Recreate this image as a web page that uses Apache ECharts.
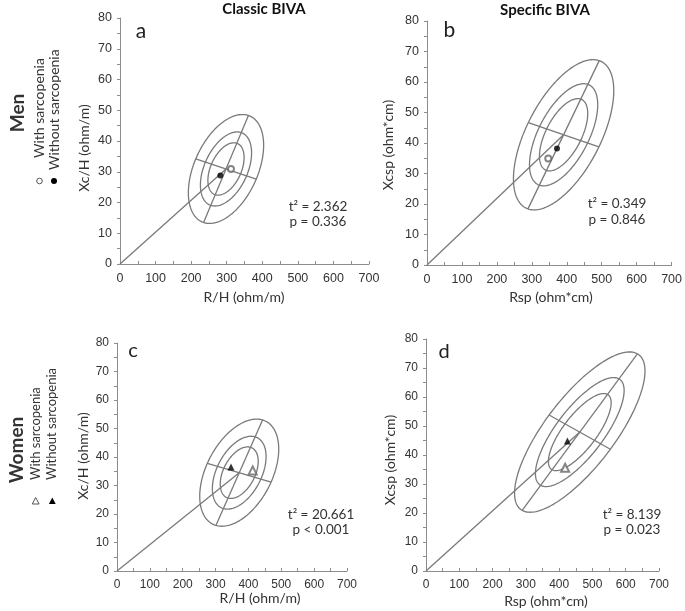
<!DOCTYPE html>
<html><head><meta charset="utf-8">
<script src="https://cdn.jsdelivr.net/npm/echarts@6/dist/echarts.min.js"></script>
<style>html,body{margin:0;padding:0;background:#fff}#c{width:685px;height:611px}</style>
</head><body><div id="c"></div>
<script>
// Axis ticks (shared by all panels)
const xTicks = [0, 100, 200, 300, 400, 500, 600, 700];
const yTicks = [0, 10, 20, 30, 40, 50, 60, 70, 80];

// Tolerance ellipse size relative to the outer (95%) ellipse: 50%, 75%, 95%
const ellipseScales = [0.481, 0.680, 1];

// Panel a: Men, classic BIVA (R/H, Xc/H)
const centerA = [298, 30.9];
const majorEndA = [361, 48.3];
const minorEndA = [383, 27.6];
const withSarcA = [312, 30.9];
const withoutSarcA = [282, 28.8];
const statsA = ['t² = 2.362', 'p = 0.336'];

// Panel b: Men, specific BIVA (Rsp, Xcsp)
const centerB = [391, 42.7];
const majorEndB = [493, 67.0];
const minorEndB = [492, 38.7];
const withSarcB = [347, 34.9];
const withoutSarcB = [372, 38.2];
const statsB = ['t² = 0.349', 'p = 0.846'];

// Panel c: Women, classic BIVA
const centerC = [372, 34.5];
const majorEndC = [443, 53.0];
const minorEndC = [469, 31.2];
const withSarcC = [413, 35.3];
const withoutSarcC = [347, 36.5];
const statsC = ['t² = 20.661', 'p < 0.001'];

// Panel d: Women, specific BIVA
const centerD = [462, 47.9];
const majorEndD = [635, 74.9];
const minorEndD = [554, 42.0];
const withSarcD = [418, 35.6];
const withoutSarcD = [425, 44.8];
const statsD = ['t² = 8.139', 'p = 0.023'];

const FONT = 'Lato, "Open Sans", sans-serif';
const TICKFONT = '"Liberation Sans", Arial, sans-serif';
const GRAY = '#7a7a7a';

function renderBiva(params, api) {
  const c = api.coord([api.value(0), api.value(1)]);
  const m = api.coord([api.value(2), api.value(3)]);
  const n = api.coord([api.value(4), api.value(5)]);
  const o = api.coord([0, 0]);
  const u = [m[0] - c[0], m[1] - c[1]];
  const v = [n[0] - c[0], n[1] - c[1]];
  const style = { stroke: GRAY, lineWidth: 1.3, fill: null };
  const children = [];
  ellipseScales.forEach(function (s) {
    const pts = [];
    for (let i = 0; i < 180; i++) {
      const t = i / 180 * 2 * Math.PI;
      pts.push([c[0] + s * (u[0] * Math.cos(t) + v[0] * Math.sin(t)),
                c[1] + s * (u[1] * Math.cos(t) + v[1] * Math.sin(t))]);
    }
    children.push({ type: 'polygon', shape: { points: pts }, style: style });
  });
  children.push({ type: 'line', shape: { x1: c[0] - u[0], y1: c[1] - u[1], x2: m[0], y2: m[1] }, style: style });
  children.push({ type: 'line', shape: { x1: c[0] - v[0], y1: c[1] - v[1], x2: n[0], y2: n[1] }, style: style });
  children.push({ type: 'line', shape: { x1: o[0], y1: o[1], x2: c[0], y2: c[1] }, style: style });
  return { type: 'group', children: children };
}

const grids = [
  { left: 120, top: 18, width: 249, height: 246 },
  { left: 427, top: 21, width: 247, height: 244 },
  { left: 117, top: 343, width: 230, height: 228 },
  { left: 426, top: 339, width: 233, height: 232 }
];
const tickSizes = [12.5, 12.5, 12, 12];

function xAx(i) {
  return {
    gridIndex: i, type: 'value', min: xTicks[0], max: xTicks[xTicks.length - 1],
    interval: xTicks[1] - xTicks[0],
    axisLine: { lineStyle: { color: '#8c8c8c', width: 1 } },
    axisTick: { show: true, inside: true, length: 3, lineStyle: { color: '#8c8c8c' } },
    minorTick: { show: true, splitNumber: 2, length: 3, lineStyle: { color: '#8c8c8c' } },
    splitLine: { show: false },
    axisLabel: { color: '#333', fontSize: tickSizes[i], fontFamily: TICKFONT, margin: 8 }
  };
}
function yAx(i) {
  return {
    gridIndex: i, type: 'value', min: yTicks[0], max: yTicks[yTicks.length - 1],
    interval: yTicks[1] - yTicks[0],
    axisLine: { show: true, lineStyle: { color: '#8c8c8c', width: 1 } },
    axisTick: { show: true, inside: false, length: 3, lineStyle: { color: '#8c8c8c' } },
    minorTick: { show: true, splitNumber: 2, length: 3, lineStyle: { color: '#8c8c8c' } },
    splitLine: { show: false },
    axisLabel: { color: '#333', fontSize: tickSizes[i], fontFamily: TICKFONT, margin: 8 }
  };
}

const panelGeom = [
  [centerA, majorEndA, minorEndA],
  [centerB, majorEndB, minorEndB],
  [centerC, majorEndC, minorEndC],
  [centerD, majorEndD, minorEndD]
];
const withPts = [withSarcA, withSarcB, withSarcC, withSarcD];
const withoutPts = [withoutSarcA, withoutSarcB, withoutSarcC, withoutSarcD];

const series = [];
panelGeom.forEach(function (g, i) {
  series.push({
    type: 'custom', xAxisIndex: i, yAxisIndex: i, renderItem: renderBiva,
    encode: { x: [0, 2, 4], y: [1, 3, 5] }, silent: true, z: 1,
    data: [[g[0][0], g[0][1], g[1][0], g[1][1], g[2][0], g[2][1]]]
  });
  const men = i < 2;
  series.push({
    type: 'scatter', xAxisIndex: i, yAxisIndex: i, z: 3,
    symbol: men ? 'emptyCircle' : 'emptyTriangle', symbolSize: men ? 6 : 8,
    itemStyle: { color: '#666', borderWidth: 1 },
    data: [withPts[i]]
  });
  series.push({
    type: 'scatter', xAxisIndex: i, yAxisIndex: i, z: 3,
    symbol: men ? 'circle' : 'triangle', symbolSize: men ? 6 : 7,
    itemStyle: { color: '#000' },
    data: [withoutPts[i]]
  });
});

function txt(x, y, text, opt) {
  return {
    type: 'text', x: x, y: y,
    style: Object.assign({ text: text, fill: '#333', font: '13.5px ' + FONT, textAlign: 'center', textVerticalAlign: 'middle' }, opt || {})
  };
}
function rtxt(x, y, text, font, align) {
  return {
    type: 'text', x: x, y: y, rotation: Math.PI / 2,
    style: { text: text, fill: '#333', font: font, textAlign: align || 'center', textVerticalAlign: 'middle' }
  };
}

const graphics = [
  txt(264, 9, 'Classic BIVA', { font: 'bold 15px ' + FONT, fill: '#111' }),
  txt(545, 10, 'Specific BIVA', { font: 'bold 15px ' + FONT, fill: '#111' }),
  rtxt(18, 113, 'Men', 'bold 19px ' + FONT),
  rtxt(17, 450, 'Women', 'bold 19px ' + FONT),
  // legends
  rtxt(39, 158, 'With sarcopenia', '14px ' + FONT, 'left'),
  rtxt(54, 170, 'Without sarcopenia', '14px ' + FONT, 'left'),
  { type: 'circle', shape: { cx: 39.5, cy: 181, r: 2.8 }, style: { fill: '#fff', stroke: '#555', lineWidth: 1 } },
  { type: 'circle', shape: { cx: 54, cy: 181, r: 3 }, style: { fill: '#000' } },
  rtxt(36, 480, 'With sarcopenia', '13px ' + FONT, 'left'),
  rtxt(51.5, 480, 'Without sarcopenia', '13px ' + FONT, 'left'),
  { type: 'polygon', shape: { points: [[35.7, 497.5], [32.3, 504], [39.1, 504]] }, style: { fill: '#fff', stroke: '#555', lineWidth: 1 } },
  { type: 'polygon', shape: { points: [[52.3, 497.5], [48.9, 504], [55.7, 504]] }, style: { fill: '#000' } },
  // axis names
  rtxt(84, 148, 'Xc/H (ohm/m)', '14px ' + FONT),
  txt(244, 297, 'R/H (ohm/m)', { font: '14px ' + FONT }),
  rtxt(388, 145, 'Xcsp (ohm*cm)', '14px ' + FONT),
  txt(551, 297, 'Rsp (ohm*cm)', { font: '14px ' + FONT }),
  rtxt(83, 456, 'Xc/H (ohm/m)', '14px ' + FONT),
  txt(260, 598, 'R/H (ohm/m)', { font: '14px ' + FONT }),
  rtxt(390, 460, 'Xcsp (ohm*cm)', '14px ' + FONT),
  txt(546, 601, 'Rsp (ohm*cm)', { font: '14px ' + FONT }),
  // panel letters
  txt(141, 31, 'a', { font: '21px ' + FONT, fill: '#222' }),
  txt(449.5, 30, 'b', { font: '21px ' + FONT, fill: '#222' }),
  txt(133, 351, 'c', { font: '20px ' + FONT, fill: '#222' }),
  txt(444, 352, 'd', { font: '20px ' + FONT, fill: '#222' }),
  // statistics
  txt(318, 207, statsA[0]), txt(318, 222, statsA[1]),
  txt(617, 204, statsB[0]), txt(617, 220, statsB[1]),
  txt(321, 515, statsC[0]), txt(321, 530, statsC[1]),
  txt(632, 515, statsD[0]), txt(632, 530, statsD[1])
];

const chart = echarts.init(document.getElementById('c'), null, { renderer: 'canvas' });
chart.setOption({
  animation: false,
  backgroundColor: '#fff',
  grid: grids,
  xAxis: [0, 1, 2, 3].map(xAx),
  yAxis: [0, 1, 2, 3].map(yAx),
  series: series,
  graphic: graphics
});
</script>
</body></html>
